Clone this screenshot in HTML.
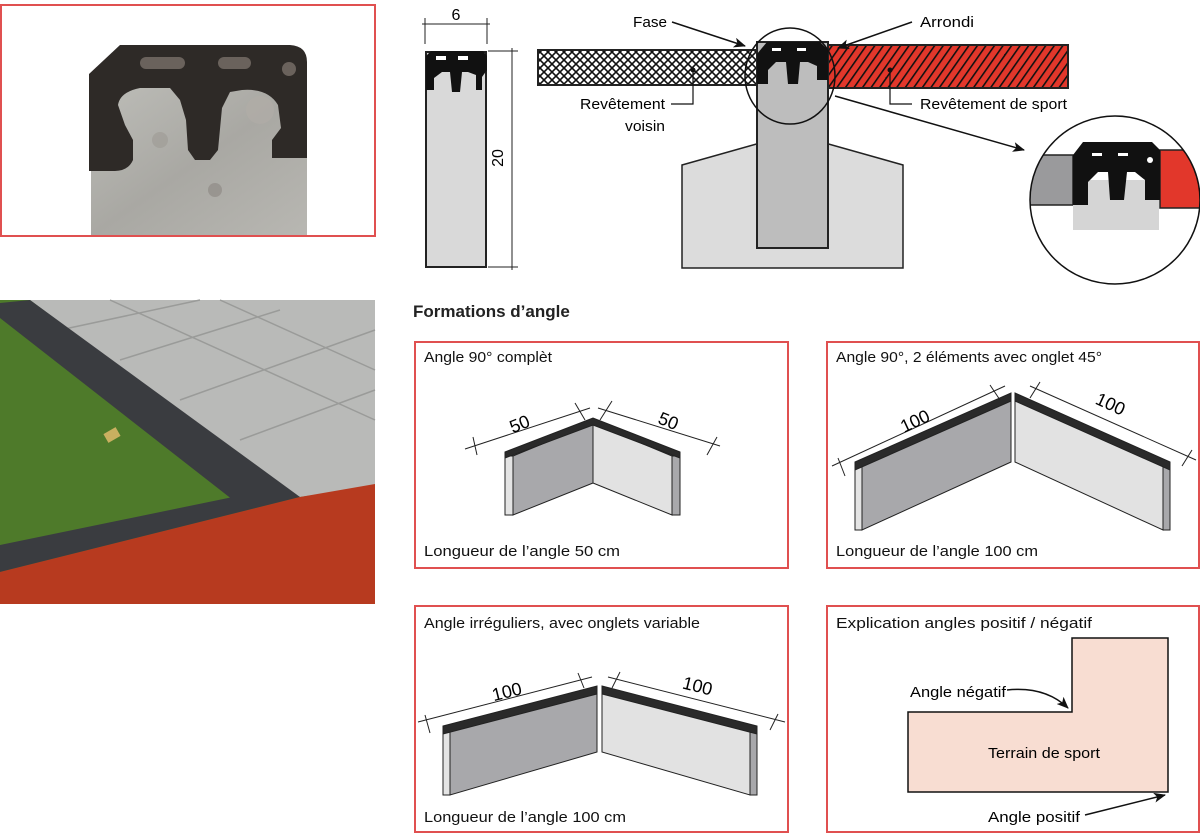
<!DOCTYPE html>
<html><head><meta charset="utf-8"><style>
html,body{margin:0;padding:0;background:#fff;}
svg{display:block;font-family:"Liberation Sans",sans-serif;}
</style></head><body>
<svg width="1200" height="835" viewBox="0 0 1200 835" xmlns="http://www.w3.org/2000/svg">
<defs>
<pattern id="cross" width="8" height="8" patternUnits="userSpaceOnUse">
<rect width="8" height="8" fill="#fff"/>
<path d="M0 0L8 8M8 0L0 8" stroke="#111" stroke-width="1.6"/>
</pattern>
<pattern id="diag" width="7" height="7" patternUnits="userSpaceOnUse" patternTransform="rotate(35)">
<rect width="7" height="7" fill="#e2372b"/>
<rect width="1.6" height="7" fill="#111"/>
</pattern>
<linearGradient id="conc" x1="0" y1="0" x2="1" y2="1">
<stop offset="0" stop-color="#bdbdb8"/><stop offset="0.5" stop-color="#a9a8a3"/><stop offset="1" stop-color="#b8b7b2"/>
</linearGradient>
<marker id="ar" markerWidth="12" markerHeight="10" refX="11" refY="5" orient="auto" markerUnits="userSpaceOnUse">
<path d="M0 0L12 5L0 10L3 5Z" fill="#111"/>
</marker>
</defs>

<!-- Photo 1 -->
<rect x="1" y="5" width="374" height="231" fill="#fff" stroke="#e05050" stroke-width="2"/>
<rect x="91" y="86" width="216" height="149" fill="url(#conc)"/>
<circle cx="215" cy="190" r="7" fill="#8a8580" opacity=".6"/>
<circle cx="260" cy="110" r="14" fill="#b0aca6" opacity=".7"/>
<circle cx="160" cy="140" r="8" fill="#9a9590" opacity=".5"/>
<path d="M89 74 L120 45 L290 45 Q307 46 307 62 L307 158 L272 158 L272 140 L281 128 L278 105 Q268 88 242 90 L230 92 L222 108 L218 150 L210 160 L195 160 L188 150 L186 120 L180 100 L170 88 L140 88 Q120 92 118 105 L125 125 L133 140 L133 160 Q128 171 115 171 L89 171 Z" fill="#2e2a27"/>
<rect x="140" y="57" width="45" height="12" rx="6" fill="#6a625c"/>
<rect x="218" y="57" width="33" height="12" rx="6" fill="#6a625c"/>
<ellipse cx="289" cy="69" rx="7" ry="7" fill="#6a625c"/>

<!-- Photo 2 -->
<rect x="0" y="300" width="375" height="304" fill="#4e7a2a"/>
<polygon points="30,300 375,300 375,486 300,497 290,494" fill="#b9bab8"/>
<path d="M110 300 L375 420 M220 300 L375 370 M60 330 L200 300 M120 360 L280 310 M180 400 L375 330 M240 440 L375 390" stroke="#9a9b99" stroke-width="1.5" fill="none"/>
<polygon points="0,303 30,300 300,497 233,500 0,318" fill="#3a3c40"/>
<polygon points="0,545 233,497 300,497 0,572" fill="#3a3c40"/>
<polygon points="0,572 300,497 375,484 375,604 0,604" fill="#b73a1f"/>
<rect x="105" y="430" width="14" height="10" fill="#c9b060" transform="rotate(-30 112 435)"/>

<!-- Small element -->
<line x1="422" y1="24" x2="490" y2="24" stroke="#222" stroke-width="1"/>
<line x1="425" y1="18" x2="425" y2="44" stroke="#222" stroke-width="1"/>
<line x1="487" y1="18" x2="487" y2="44" stroke="#222" stroke-width="1"/>
<text x="456" y="20" font-size="16" text-anchor="middle">6</text>
<line x1="512" y1="48" x2="512" y2="270" stroke="#222" stroke-width="1"/>
<line x1="488" y1="51" x2="518" y2="51" stroke="#222" stroke-width="1"/>
<line x1="488" y1="267" x2="518" y2="267" stroke="#222" stroke-width="1"/>
<text x="0" y="0" font-size="16" text-anchor="middle" transform="translate(503 158) rotate(-90)">20</text>
<rect x="426" y="52" width="60" height="215" fill="#d9d9d9" stroke="#222" stroke-width="2"/>
<path d="M426 56 L431 51 L483 51 L487 56 L487 70 L482 77 L482 90 L476 90 L476 75 L468 72 L462 72 L460 92 L452 92 L450 72 L442 72 L434 78 L434 90 L426 90 Z" fill="#111"/>
<rect x="436" y="56" width="10" height="4" fill="#fff"/><rect x="458" y="56" width="10" height="4" fill="#fff"/>

<!-- Main cross-section -->
<polygon points="682,165 760,143 825,143 903,165 903,268 682,268" fill="#dcdcdc" stroke="#222" stroke-width="1.5"/>
<rect x="538" y="50" width="222" height="35" fill="url(#cross)" stroke="#222" stroke-width="2"/>
<rect x="826" y="45" width="242" height="43" fill="url(#diag)" stroke="#222" stroke-width="2"/>
<rect x="757" y="42" width="71" height="206" fill="#bdbdbd" stroke="#222" stroke-width="2"/>
<path d="M757 54 L767 42 L820 42 L828 50 L828 80 L817 80 L817 66 L808 62 L800 62 L798 84 L788 84 L786 62 L776 62 L768 70 L768 84 L757 84 Z" fill="#111"/>
<rect x="772" y="48" width="9" height="3" fill="#fff"/><rect x="797" y="48" width="9" height="3" fill="#fff"/>
<ellipse cx="790" cy="76" rx="45" ry="48" fill="none" stroke="#111" stroke-width="1.5"/>
<line x1="672" y1="22" x2="745" y2="46" stroke="#111" stroke-width="1.5" marker-end="url(#ar)"/>
<line x1="912" y1="22" x2="838" y2="48" stroke="#111" stroke-width="1.5" marker-end="url(#ar)"/>
<text x="633" y="27" font-size="15" textLength="34" lengthAdjust="spacingAndGlyphs">Fase</text>
<text x="920" y="27" font-size="15" textLength="54" lengthAdjust="spacingAndGlyphs">Arrondi</text>
<path d="M671 104 L693 104 L693 70" fill="none" stroke="#111" stroke-width="1.2"/>
<circle cx="693" cy="70" r="2.5" fill="#111"/>
<text x="580" y="109" font-size="15" textLength="85" lengthAdjust="spacingAndGlyphs">Revêtement</text>
<text x="625" y="131" font-size="15" textLength="40" lengthAdjust="spacingAndGlyphs">voisin</text>
<path d="M912 104 L890 104 L890 70" fill="none" stroke="#111" stroke-width="1.2"/>
<circle cx="890" cy="70" r="2.5" fill="#111"/>
<text x="920" y="109" font-size="15" textLength="147" lengthAdjust="spacingAndGlyphs">Revêtement de sport</text>
<line x1="835" y1="96" x2="1024" y2="150" stroke="#111" stroke-width="1.5" marker-end="url(#ar)"/>
<clipPath id="zc"><ellipse cx="1115" cy="200" rx="85" ry="84"/></clipPath>
<g clip-path="url(#zc)">
<rect x="1028" y="155" width="45" height="50" fill="#9a9a9c" stroke="#222" stroke-width="1.5"/>
<rect x="1160" y="150" width="45" height="58" fill="#e2372b" stroke="#222" stroke-width="1.5"/>
<rect x="1073" y="180" width="86" height="50" fill="#d5d5d5"/>
<path d="M1073 155 L1083 142 L1152 142 L1160 150 L1160 200 L1145 200 L1145 180 L1135 172 L1127 172 L1124 200 L1110 200 L1108 172 L1098 172 L1088 182 L1088 205 L1073 205 Z" fill="#111"/>
<rect x="1092" y="153" width="10" height="3" fill="#fff"/><rect x="1118" y="153" width="10" height="3" fill="#fff"/><circle cx="1150" cy="160" r="3" fill="#fff"/>
</g>
<ellipse cx="1115" cy="200" rx="85" ry="84" fill="none" stroke="#111" stroke-width="1.5"/>

<!-- Title -->
<text x="413" y="317" font-size="17" font-weight="bold" fill="#222">Formations d’angle</text>

<!-- Boxes -->
<g fill="none" stroke="#e05050" stroke-width="2">
<rect x="415" y="342" width="373" height="226"/>
<rect x="827" y="342" width="372" height="226"/>
<rect x="415" y="606" width="373" height="226"/>
<rect x="827" y="606" width="372" height="226"/>
</g>
<g font-size="15" fill="#111">
<text x="424" y="362" textLength="128" lengthAdjust="spacingAndGlyphs">Angle 90° complèt</text>
<text x="424" y="556" textLength="196" lengthAdjust="spacingAndGlyphs">Longueur de l’angle 50 cm</text>
<text x="836" y="362" textLength="266" lengthAdjust="spacingAndGlyphs">Angle 90°, 2 éléments avec onglet 45°</text>
<text x="836" y="556" textLength="202" lengthAdjust="spacingAndGlyphs">Longueur de l’angle 100 cm</text>
<text x="424" y="628" textLength="276" lengthAdjust="spacingAndGlyphs">Angle irréguliers, avec onglets variable</text>
<text x="424" y="822" textLength="202" lengthAdjust="spacingAndGlyphs">Longueur de l’angle 100 cm</text>
<text x="836" y="628" textLength="256" lengthAdjust="spacingAndGlyphs">Explication angles positif / négatif</text>
</g>

<!-- Box1 drawing -->
<g stroke="#222" stroke-width="1">
<polygon points="505,456 513,456 513,515 505,515" fill="#e4e4e4"/>
<polygon points="513,456 593,423 593,483 513,515" fill="#a8a8ab"/>
<polygon points="593,423 672,456 672,515 593,483" fill="#e2e2e2"/>
<polygon points="672,456 680,456 680,515 672,515" fill="#a8a8ab"/>
<polygon points="505,452 593,418 680,452 680,458 593,425 505,458" fill="#2a2a2a"/>
<line x1="465" y1="449" x2="590" y2="408"/><line x1="473" y1="437" x2="477" y2="455"/><line x1="575" y1="403" x2="585" y2="420"/>
<line x1="598" y1="408" x2="720" y2="446"/><line x1="600" y1="420" x2="612" y2="401"/><line x1="707" y1="455" x2="717" y2="437"/>
</g>
<text x="510" y="430" font-size="18" transform="rotate(-22 520 425)">50</text>
<text x="658" y="427" font-size="18" transform="rotate(22 668 422)">50</text>

<!-- Box2 drawing -->
<g stroke="#222" stroke-width="1">
<polygon points="855,466 862,466 862,530 855,530" fill="#e4e4e4"/>
<polygon points="862,466 1011,397 1011,462 862,530" fill="#a8a8ab"/>
<polygon points="1015,397 1163,466 1163,530 1015,462" fill="#e2e2e2"/>
<polygon points="1163,466 1170,466 1170,530 1163,530" fill="#a8a8ab"/>
<polygon points="855,462 1011,393 1011,401 855,470" fill="#2a2a2a"/>
<polygon points="1015,393 1170,462 1170,470 1015,401" fill="#2a2a2a"/>
<line x1="832" y1="466" x2="1005" y2="386"/><line x1="838" y1="458" x2="845" y2="476"/><line x1="990" y1="385" x2="1000" y2="400"/>
<line x1="1030" y1="386" x2="1196" y2="460"/><line x1="1030" y1="398" x2="1040" y2="382"/><line x1="1182" y1="466" x2="1192" y2="450"/>
</g>
<text x="900" y="425" font-size="18" transform="rotate(-25 920 420)">100</text>
<text x="1095" y="410" font-size="18" transform="rotate(25 1110 405)">100</text>

<!-- Box3 drawing -->
<g stroke="#222" stroke-width="1">
<polygon points="443,730 450,730 450,795 443,795" fill="#e4e4e4"/>
<polygon points="450,730 597,692 597,752 450,795" fill="#a8a8ab"/>
<polygon points="602,692 750,730 750,795 602,752" fill="#e2e2e2"/>
<polygon points="750,730 757,730 757,795 750,795" fill="#a8a8ab"/>
<polygon points="443,726 597,686 597,694 443,734" fill="#2a2a2a"/>
<polygon points="602,686 757,726 757,734 602,694" fill="#2a2a2a"/>
<line x1="418" y1="722" x2="592" y2="677"/><line x1="425" y1="715" x2="430" y2="733"/><line x1="578" y1="673" x2="584" y2="688"/>
<line x1="608" y1="677" x2="785" y2="722"/><line x1="612" y1="688" x2="620" y2="672"/><line x1="770" y1="730" x2="778" y2="714"/>
</g>
<text x="492" y="697" font-size="18" transform="rotate(-14 510 692)">100</text>
<text x="682" y="692" font-size="18" transform="rotate(14 697 688)">100</text>

<!-- Box4 drawing -->
<polygon points="1072,638 1168,638 1168,792 908,792 908,712 1072,712" fill="#f8ddd2" stroke="#111" stroke-width="1.5"/>
<text x="910" y="697" font-size="15" textLength="96" lengthAdjust="spacingAndGlyphs">Angle négatif</text>
<path d="M1007 690 Q1045 686 1068 708" fill="none" stroke="#111" stroke-width="1.5" marker-end="url(#ar)"/>
<text x="988" y="758" font-size="15" textLength="112" lengthAdjust="spacingAndGlyphs">Terrain de sport</text>
<text x="988" y="822" font-size="15" textLength="92" lengthAdjust="spacingAndGlyphs">Angle positif</text>
<line x1="1085" y1="815" x2="1165" y2="795" stroke="#111" stroke-width="1.5" marker-end="url(#ar)"/>
</svg>
</body></html>
